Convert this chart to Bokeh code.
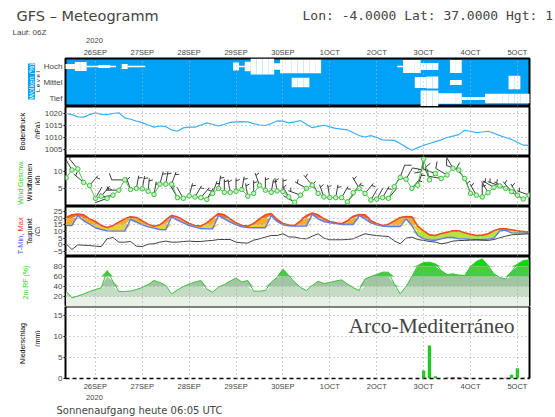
import math
from bokeh.plotting import figure
from bokeh.layouts import column, row
from bokeh.models import Range1d, Label, FixedTicker, LinearAxis, Span
from bokeh.embed import file_html
from bokeh.resources import INLINE

# ---------------- data (3-hourly, hours relative to 26SEP2020 00Z) ----------------
hours = list(range(-15, 223, 3))
day_ticks = [0, 24, 48, 72, 96, 120, 144, 168, 192, 216]
day_names = ["26SEP", "27SEP", "28SEP", "29SEP", "30SEP", "1OCT", "2OCT", "3OCT", "4OCT", "5OCT"]
year_label = "2020"

cloud_high = [30, 30, 55, 55, 10, 10, 20, 20,
              8, 0, 30, 8, 8, 8, 0, 0,
              0, 0, 0, 0, 0, 0, 0, 0,
              0, 0, 0, 0, 0, 50, 10, 60,
              100, 100, 100, 100, 40, 85, 85, 85,
              85, 85, 85, 85, 0, 0, 0, 0,
              0, 0, 0, 0, 0, 0, 0, 0,
              0, 10, 80, 80, 80, 45, 45, 45,
              0, 0, 80, 80, 0, 0, 0, 0,
              0, 0, 0, 0, 0, 0, 0, 0]
cloud_mid = [0, 0, 0, 0, 0, 0, 0, 0,
             0, 0, 0, 0, 0, 0, 0, 0,
             0, 0, 0, 0, 0, 0, 0, 0,
             0, 0, 0, 0, 0, 0, 0, 0,
             0, 0, 0, 0, 0, 0, 0, 60,
             60, 60, 0, 0, 0, 0, 0, 0,
             0, 0, 0, 0, 0, 0, 0, 0,
             0, 0, 0, 0, 70, 70, 75, 75,
             0, 0, 30, 30, 0, 0, 0, 0,
             0, 0, 0, 0, 85, 85, 0, 0]
cloud_low = [0, 0, 0, 0, 0, 0, 0, 0,
             0, 0, 0, 0, 0, 0, 0, 0,
             0, 0, 0, 0, 0, 0, 0, 0,
             0, 0, 0, 0, 0, 0, 0, 0,
             0, 0, 0, 0, 0, 0, 0, 0,
             0, 0, 0, 0, 0, 0, 0, 0,
             0, 0, 0, 0, 0, 0, 0, 0,
             0, 0, 0, 0, 0, 100, 100, 100,
             65, 65, 65, 65, 20, 20, 20, 20,
             60, 60, 60, 60, 60, 60, 60, 60]

pressure = [1020.0, 1019.5, 1018.6, 1018.5, 1019.5, 1020.3, 1019.6, 1019.5,
            1020.0, 1020.3, 1018.2, 1017.6, 1016.8, 1016.2, 1015.2, 1014.3,
            1014.8, 1014.5, 1013.2, 1012.6, 1014.0, 1014.3, 1014.3, 1015.2,
            1016.1, 1015.5, 1014.8, 1015.5, 1016.3, 1016.5, 1016.6, 1016.5,
            1015.8, 1015.2, 1015.0, 1015.8, 1016.9, 1016.8, 1016.1, 1016.5,
            1017.0, 1015.5, 1014.1, 1014.6, 1015.1, 1014.4, 1013.8, 1013.5,
            1013.2, 1012.0, 1010.8, 1010.2, 1010.8, 1010.0, 1009.0, 1008.9,
            1008.8, 1007.5, 1006.0, 1004.7, 1005.8, 1006.7, 1007.5, 1008.3,
            1009.0, 1010.0, 1010.6, 1011.2, 1013.0, 1012.6, 1012.0, 1012.3,
            1012.6, 1011.8, 1010.8, 1010.0, 1009.2, 1008.0, 1006.8, 1006.7]

wind_speed = [8.1, 10.3, 10.6, 6.8, 5.9, 2.3, 2.9, 2.3,
              3.2, 4.6, 7.5, 4.8, 5.1, 5.0, 4.3, 3.4,
              6.3, 6.3, 6.3, 2.5, 2.3, 3.0, 2.7, 2.5,
              2.0, 3.7, 5.1, 4.0, 4.0, 4.3, 4.8, 2.9,
              3.7, 6.0, 4.6, 4.0, 4.4, 4.2, 2.7, 1.2,
              3.2, 5.1, 6.0, 3.7, 2.7, 2.5, 2.5, 2.5,
              1.3, 3.9, 5.1, 3.7, 1.8, 2.1, 2.5, 2.3,
              5.6, 8.2, 7.7, 5.1, 6.0, 13.4, 7.5, 9.3,
              7.9, 8.9, 10.8, 10.3, 7.9, 3.7, 3.2, 2.7,
              3.9, 5.4, 5.8, 5.1, 4.2, 3.2, 2.1, 3.2]
wind_dir = [330, 330, 320, 310, 40, 30, 40, 250,
            260, 270, 270, 340, 10, 10, 5, 10,
            15, 10, 20, 330, 330, 15, 30, 40,
            30, 20, 10, 0, 350, 0, 10, 350,
            0, 340, 0, 10, 350, 0, 330, 300,
            290, 300, 320, 330, 340, 350, 10, 30,
            40, 40, 330, 40, 30, 30, 30, 40,
            30, 20, 30, 40, 20, 190, 340, 290,
            280, 300, 330, 290, 320, 340, 330, 0,
            330, 300, 290, 300, 320, 330, 300, 290]

t_max = [20.5, 22.5, 23.0, 22.5, 19.5, 17.5, 14.5, 13.0,
         14.5, 17.0, 19.5, 21.0, 20.5, 18.0, 15.5, 14.0,
         15.0, 18.5, 22.0, 21.0, 18.5, 16.0, 14.5, 14.0,
         16.5, 20.0, 23.5, 22.5, 19.5, 16.5, 14.5, 14.0,
         16.0, 19.5, 22.5, 23.5, 19.0, 16.0, 14.8, 14.5,
         18.0, 22.0, 23.8, 22.5, 19.5, 17.5, 16.5, 15.8,
         18.0, 21.5, 22.8, 22.5, 18.0, 16.0, 14.5, 15.5,
         18.0, 20.5, 21.3, 21.0, 14.0, 10.5, 7.5, 7.0,
         8.5, 9.5, 10.5, 10.5, 9.0, 8.0, 7.0, 7.3,
         8.3, 10.5, 12.0, 12.0, 11.3, 10.5, 10.0, 9.5]
t_min = [14.5, 14.5, 22.0, 18.0, 15.5, 12.8, 11.5, 10.5,
         10.3, 10.3, 10.3, 19.0, 17.0, 15.0, 13.5, 12.5,
         11.5, 11.3, 21.0, 18.5, 16.5, 14.5, 13.3, 12.2,
         12.0, 12.0, 22.0, 19.5, 17.0, 15.0, 13.5, 13.0,
         12.8, 12.8, 12.8, 22.0, 17.5, 15.0, 14.3, 14.0,
         14.0, 14.0, 23.0, 19.5, 17.5, 16.5, 16.0, 15.3,
         15.3, 15.3, 22.0, 19.5, 16.5, 15.0, 14.0, 13.8,
         13.8, 13.8, 19.5, 14.5, 7.0, 4.5, 3.5, 3.3,
         4.5, 5.5, 5.5, 4.5, 4.5, 4.0, 3.8, 3.8,
         4.3, 5.0, 10.5, 11.0, 9.0, 8.8, 8.8, 8.8]
dewpoint = [0.8, -3.5, 0.0, -0.3, -0.5, -1.0, -1.3, 4.5,
            5.5, 2.0, 2.0, 2.5, -1.0, -1.3, 0.5, 0.8,
            2.0, 2.8, 2.0, 2.0, 2.5, 2.8, 2.5, 2.5,
            3.0, 3.3, 4.0, 4.0, 4.0, 2.0, 1.5, 1.3,
            3.5, 4.5, 5.8, 7.0, 7.0, 8.3, 6.0, 5.8,
            4.8, 4.5, 6.5, 8.3, 5.0, 3.8, 3.8, 3.8,
            4.0, 4.5, 6.5, 8.3, 7.5, 7.0, 6.5, 6.3,
            3.0, 0.8, 5.0, 5.8, 4.0, 3.3, 2.5, 2.0,
            0.8, 1.5, 2.8, 3.2, 3.3, 3.5, 3.8, 3.5,
            3.3, 4.0, 5.3, 6.5, 7.5, 7.8, 8.0, 8.3]

rel_hum = [30.7, 17.3, 21, 25, 30, 34, 37.3, 72,
           50, 30, 30, 31, 34, 38, 44, 52,
           48, 42, 25.3, 33, 40, 45, 49, 52,
           35, 28.7, 38.7, 44, 51, 57, 49, 52,
           30.7, 30.7, 32, 48.7, 58, 75, 62, 48.7,
           38, 32, 42, 50.7, 46, 48, 51, 53.3,
           45, 37.3, 32, 55, 60, 64, 68.7, 68.7,
           45, 25.3, 40, 60, 82, 88, 88.7, 85.3,
           72, 64, 65.3, 63, 62, 80, 90, 95.3,
           82, 65.3, 58, 55, 70, 85, 92, 93.3]

precip = [0, 0, 0, 0, 0, 0, 0, 0,
          0, 0, 0, 0, 0, 0, 0, 0,
          0, 0, 0, 0, 0, 0, 0, 0,
          0, 0, 0, 0, 0, 0, 0, 0,
          0, 0, 0, 0, 0, 0, 0, 0,
          0, 0, 0, 0, 0, 0, 0, 0,
          0, 0, 0, 0, 0, 0, 0, 0,
          0, 0, 0, 0, 0, 1.9, 7.85, 0.55,
          0, 0, 0, 0, 0, 0, 0, 0,
          0, 0, 0, 0, 0.9, 2.45, 0.2, 0]
precip_red = [0, 0, 0, 0, 0, 0, 0, 0,
              0, 0, 0, 0, 0, 0, 0, 0,
              0, 0, 0, 0, 0, 0, 0, 0,
              0, 0, 0, 0, 0, 0, 0, 0,
              0, 0, 0, 0, 0, 0, 0, 0,
              0, 0, 0, 0, 0, 0, 0, 0,
              0, 0, 0, 0, 0, 0, 0, 0,
              0, 0, 0, 0, 0, 0, 0, 0,
              0, 0.25, 0.3, 0.3, 0.3, 0, 0, 0,
              0, 0, 0, 0.2, 0, 0, 0, 0.3]

# ---------------- layout constants (page pixels) ----------------
W = 555
STRIP_W = 40          # left strip with rotated axis titles
LB, RB = 24, 26       # borders of the panel figures
FRAME_L = STRIP_W + LB
FRAME_W = W - STRIP_W - LB - RB
XR = (-15.3, 222.2)
xpx = FRAME_W / (XR[1] - XR[0])
HEAD_H, FOOT_H = 44, 24
CLOUD_TOP, PREC_BOT = 12, 13
PANEL_H, PREC_H = 50, 74
GRID_C = "#a0a0a0"
FONT = "Liberation Sans"

xr = Range1d(*XR)
full_xr = Range1d(XR[0] - FRAME_L / xpx, XR[1] + RB / xpx)


def bare(width, height, x_range, y_range):
    p = figure(width=width, height=height, x_range=x_range, y_range=y_range,
               output_backend="svg", toolbar_location=None, min_border=0,
               x_axis_location=None, y_axis_location=None,
               background_fill_color="white", border_fill_color="white")
    p.outline_line_color = None
    p.grid.visible = False
    return p


def make(h, yr, top=0, bottom=0, xloc=None):
    p = figure(width=W - STRIP_W, height=h, x_range=xr, y_range=Range1d(*yr),
               output_backend="svg", toolbar_location=None,
               x_axis_location=xloc, min_border_left=LB, min_border_right=RB,
               min_border_top=top, min_border_bottom=bottom,
               background_fill_color="white", border_fill_color="white")
    p.outline_line_color = "black"
    p.outline_line_width = 2
    p.xgrid.ticker = FixedTicker(ticks=day_ticks)
    p.xgrid.grid_line_color = GRID_C
    p.xgrid.grid_line_dash = "1 3"
    p.ygrid.grid_line_color = GRID_C
    p.ygrid.grid_line_dash = "1 3"
    p.xgrid.level = "overlay"
    p.ygrid.level = "overlay"
    p.yaxis.axis_line_color = None
    p.yaxis.minor_tick_line_color = None
    p.yaxis.major_tick_out = 2
    p.yaxis.major_tick_in = 0
    p.yaxis.major_label_text_font_size = "8px"
    p.yaxis.major_label_text_font = FONT
    p.yaxis.major_label_standoff = 1
    return p


def style_xaxis(p):
    p.xaxis.ticker = FixedTicker(ticks=day_ticks)
    p.xaxis.major_label_overrides = {t: n for t, n in zip(day_ticks, day_names)}
    p.xaxis.axis_line_color = None
    p.xaxis.major_tick_line_color = None
    p.xaxis.minor_tick_line_color = None
    p.xaxis.major_tick_out = 0
    p.xaxis.major_tick_in = 0
    p.xaxis.major_label_text_font_size = "7.5px"
    p.xaxis.major_label_text_font = FONT


# ---------------- header ----------------
ph = bare(W, HEAD_H, full_xr, Range1d(0, HEAD_H))
ph.add_layout(Label(x=16, y=HEAD_H - 15, x_units="screen", y_units="screen",
                    text="GFS – Meteogramm", text_baseline="middle",
                    text_font_size="14.5px", text_font="DejaVu Sans"))
ph.add_layout(Label(x=302, y=HEAD_H - 15, x_units="screen", y_units="screen",
                    text="Lon: -4.0000 Lat: 37.0000 Hgt: 1", text_baseline="middle",
                    text_font_size="13px", text_font="DejaVu Sans Mono"))
ph.add_layout(Label(x=12, y=HEAD_H - 31.5, x_units="screen", y_units="screen",
                    text="Lauf: 06Z", text_baseline="middle",
                    text_font_size="8px", text_font=FONT))
ph.add_layout(Label(x=day_ticks[0], y=HEAD_H - 40, y_units="screen", text=year_label,
                    text_align="center", text_baseline="middle",
                    text_font_size="7.5px", text_font=FONT))

# ---------------- clouds ----------------
pc = make(CLOUD_TOP + PANEL_H, (0, 3), top=CLOUD_TOP, xloc="above")
pc.background_fill_color = "#00a2f7"
pc.xgrid.grid_line_color = "#a8bccc"
pc.ygrid.grid_line_color = None
style_xaxis(pc)
pc.xaxis.major_label_standoff = 2
pc.yaxis.ticker = FixedTicker(ticks=[0.5, 1.5, 2.5])
pc.yaxis.major_label_overrides = {0.5: "Tief", 1.5: "Mittel", 2.5: "Hoch"}
pc.yaxis.major_tick_line_color = None
for level_y, cov in ((2.5, cloud_high), (1.5, cloud_mid), (0.5, cloud_low)):
    pc.rect(x=hours, y=level_y, width=3.05, height=[c / 100 for c in cov],
            fill_color="white", line_color=None)

# ---------------- pressure ----------------
pp = make(PANEL_H, (1002.1, 1022.9))
pp.yaxis.ticker = FixedTicker(ticks=[1005, 1010, 1015, 1020])
pp.line(hours, pressure, line_color="#3fb0f5", line_width=1.2)

# ---------------- wind ----------------
WY = (0, 14.1)
pw = make(PANEL_H, WY)
pw.yaxis.ticker = FixedTicker(ticks=[5, 10])
ypx = PANEL_H / (WY[1] - WY[0])
L = 13
theta = [math.radians(90 - d) for d in wind_dir]
pw.ray(x=hours, y=wind_speed, length=L, length_units="screen", angle=theta,
       line_color="#262626", line_width=0.9)
fx, fy, fang, flen = [], [], [], []
for h, s, th in zip(hours, wind_speed, theta):
    if s >= 12.5:
        feathers = [(1.0, 7), (0.8, 4)]
    elif s >= 7.5:
        feathers = [(1.0, 7)]
    elif s >= 2.5:
        feathers = [(0.8, 4)]
    else:
        feathers = []
    for frac, ln in feathers:
        fx.append(h + frac * L * math.cos(th) / xpx)
        fy.append(s + frac * L * math.sin(th) / ypx)
        fang.append(th - math.radians(70))
        flen.append(ln)
pw.ray(x=fx, y=fy, length=flen, length_units="screen", angle=fang,
       line_color="#262626", line_width=0.9)
pw.line(hours, wind_speed, line_color="#48cc48", line_width=1)
pw.scatter(hours, wind_speed, size=4.5, line_color="#40c040", fill_color="#c8f5c8", line_width=1)

# ---------------- temperature ----------------
pt = make(PANEL_H, (-8.75, 28.75))
pt.yaxis.ticker = FixedTicker(ticks=[-5, 0, 5, 10, 15, 20, 25])
bands = [(-10, 5, "#80dc50"), (5, 10, "#b8e43a"), (10, 15, "#e8d424"),
         (15, 20, "#f2b02c"), (20, 40, "#f07a2c")]
for lo, hi, col in bands:
    pt.varea(x=hours, y1=[min(max(v, lo), hi) for v in t_min],
             y2=[min(max(v, lo), hi) for v in t_max], fill_color=col)
pt.line(hours, t_max, line_color="#f04a1e", line_width=1.6)
pt.line(hours, t_min, line_color="#5a78ff", line_width=1.4)
pt.line(hours, dewpoint, line_color="#404040", line_width=1)

# ---------------- relative humidity ----------------
pr = make(PANEL_H, (0, 100))
pr.yaxis.ticker = FixedTicker(ticks=[20, 40, 60, 80])
rh_bands = [(0, 20, "#e6f2e6"), (20, 40, "#c4dcc4"), (40, 60, "#a2c6a2"),
            (60, 80, "#44cc44"), (80, 100, "#08dc08")]
for lo, hi, col in rh_bands:
    pr.varea(x=hours, y1=lo, y2=[min(max(v, lo), hi) for v in rel_hum], fill_color=col)
pr.line(hours, rel_hum, line_color="#3cc03c", line_width=1)

# ---------------- precipitation ----------------
PY = (0, 17.1)
pn = make(PREC_H + PREC_BOT, PY, bottom=PREC_BOT, xloc="below")
pn.outline_line_color = None
style_xaxis(pn)
pn.xaxis.major_label_standoff = 3
pn.xaxis.axis_line_color = "black"
pn.xaxis.axis_line_width = 1.5
pn.xaxis.axis_line_dash = "4 3"
pn.yaxis.ticker = FixedTicker(ticks=[0, 5, 10, 15])
pn.yaxis.axis_line_color = "black"
pn.yaxis.axis_line_width = 2
pn.add_layout(LinearAxis(ticker=FixedTicker(ticks=[]), major_label_text_font_size="0px",
                         major_tick_line_color=None, minor_tick_line_color=None,
                         major_tick_out=0, axis_line_width=2, axis_line_color="black"), "right")
pn.add_layout(Span(location=PY[1], dimension="width", line_color="black", line_width=2))
pn.vbar(x=hours, top=precip, width=1.7, fill_color="#22c822", line_color=None)
pn.vbar(x=hours, top=precip_red, width=1.7, fill_color="#f04848", line_color=None)
pn.add_layout(Label(x=347 - FRAME_L, y=53, x_units="screen", y_units="screen",
                    text="Arco-Mediterráneo", text_baseline="alphabetic",
                    text_font_size="21.5px", text_font="Liberation Serif"))

# ---------------- left strip with axis titles (page-pixel coordinates) ----------------
STRIP_TOP = HEAD_H
STRIP_H = CLOUD_TOP + 5 * PANEL_H + PREC_H + PREC_BOT
ps = bare(STRIP_W, STRIP_H, Range1d(0, STRIP_W), Range1d(STRIP_TOP + STRIP_H, STRIP_TOP))


def side(text, x, y, color="black", size="7px", align="center", bg=None):
    ps.add_layout(Label(x=x, y=y, text=text, angle=90, angle_units="deg",
                        text_align=align, text_baseline="middle", text_color=color,
                        text_font_size=size, text_font=FONT, background_fill_color=bg))


side("Wolken (%)", 31, 81, color="white", bg="#00a2f7")
side("L e v e l", 37.5, 81, size="6px")
side("Bodendruck", 22, 131)
side("(hPa)", 36.5, 130)
side("Wind Geschw.", 20, 182, color="#33cc33")
side("Windfahnen", 29, 182)
side("(kt)", 36.5, 180)
side("T-Min, ", 20, 254, color="#4a5cff", size="7.5px", align="left")
side("Max", 20, 231, color="#ff3030", size="7.5px", align="left")
side("Taupunkt", 29, 231, size="6.5px")
side("(C)", 37, 231, size="6.5px")
side("2m RF (%)", 25, 282, color="#33cc33")
side("Niederschlag", 22, 343)
side("(mm)", 37, 338)

# ---------------- footer ----------------
pf = bare(W, FOOT_H, full_xr, Range1d(0, FOOT_H))
pf.add_layout(Label(x=day_ticks[0], y=FOOT_H - 4, y_units="screen", text=year_label,
                    text_align="center", text_baseline="middle",
                    text_font_size="7.5px", text_font=FONT))
pf.add_layout(Label(x=56, y=FOOT_H - 17, x_units="screen", y_units="screen",
                    text="Sonnenaufgang heute 06:05 UTC",
                    text_baseline="middle", text_font_size="10px", text_font="DejaVu Sans"))

panels = column(pc, pp, pw, pt, pr, pn, spacing=0)
layout = column(ph, row(ps, panels, spacing=0), pf, spacing=0)
open("out.html", "w").write(file_html(layout, INLINE))
